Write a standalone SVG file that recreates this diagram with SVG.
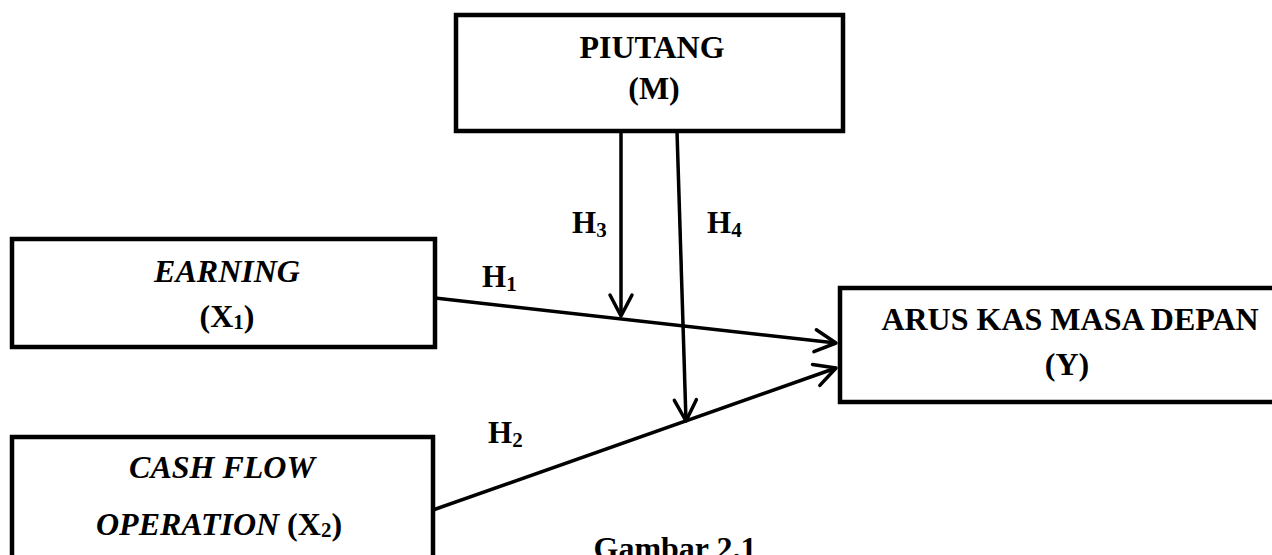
<svg xmlns="http://www.w3.org/2000/svg" width="1272" height="555" viewBox="0 0 1272 555">
<style>
.box{fill:#fff;stroke:#000;stroke-width:4.5;}
.t{font-family:"Liberation Serif","Times New Roman",serif;font-weight:bold;font-size:32px;fill:#000;text-anchor:middle;}
.i{font-style:italic;}
.h{font-family:"Liberation Serif","Times New Roman",serif;font-weight:bold;font-size:31px;fill:#000;}
.sub{font-size:21px;font-style:normal;}
.c{fill:none;stroke:#000;stroke-width:3.5;}
</style>
<defs>
<marker id="arr" markerUnits="userSpaceOnUse" markerWidth="30" markerHeight="30" viewBox="-24 -15 28 30" refX="0" refY="0" orient="auto">
<path d="M-21,-11 L0,0 L-21,11" fill="none" stroke="#000" stroke-width="3.5" stroke-linecap="round" stroke-linejoin="round"/>
</marker>
</defs>
<rect width="1272" height="555" fill="#fff"/>
<g id="piutang">
<rect class="box" x="456" y="15" width="387" height="116"/>
<text class="t" x="652" y="58">PIUTANG</text>
<text class="t" x="654" y="99">(M)</text>
</g>
<g id="earning">
<rect class="box" x="12" y="239" width="423" height="108"/>
<text class="t i" x="227" y="282">EARNING</text>
<text class="t" x="227" y="327">(X<tspan class="sub" dy="2">1</tspan><tspan dy="-2">)</tspan></text>
</g>
<g id="cashflow">
<rect class="box" x="12" y="437" width="421" height="140"/>
<text class="t i" x="222" y="478">CASH FLOW</text>
<text class="t" x="219" y="535"><tspan class="i">OPERATION</tspan> (X<tspan class="sub" dy="2">2</tspan><tspan dy="-2">)</tspan></text>
</g>
<g id="arus">
<rect class="box" x="840" y="288" width="450" height="114"/>
<text class="t" x="1070" y="330">ARUS KAS MASA DEPAN</text>
<text class="t" x="1067" y="375">(Y)</text>
</g>
<g id="connectors">
<line class="c" x1="435" y1="298" x2="836" y2="343" marker-end="url(#arr)"/>
<line class="c" x1="433" y1="510" x2="836" y2="368" marker-end="url(#arr)"/>
<line class="c" x1="621" y1="131" x2="621" y2="316" marker-end="url(#arr)"/>
<line class="c" x1="677" y1="131" x2="686" y2="421" marker-end="url(#arr)"/>
</g>
<g id="labels">
<text class="h" x="482" y="287">H<tspan class="sub" dy="4">1</tspan></text>
<text class="h" x="488" y="443">H<tspan class="sub" dy="4">2</tspan></text>
<text class="h" x="572" y="233">H<tspan class="sub" dy="4">3</tspan></text>
<text class="h" x="707" y="233">H<tspan class="sub" dy="4">4</tspan></text>
<text class="t" x="675" y="559">Gambar 2.1</text>
</g>
</svg>
